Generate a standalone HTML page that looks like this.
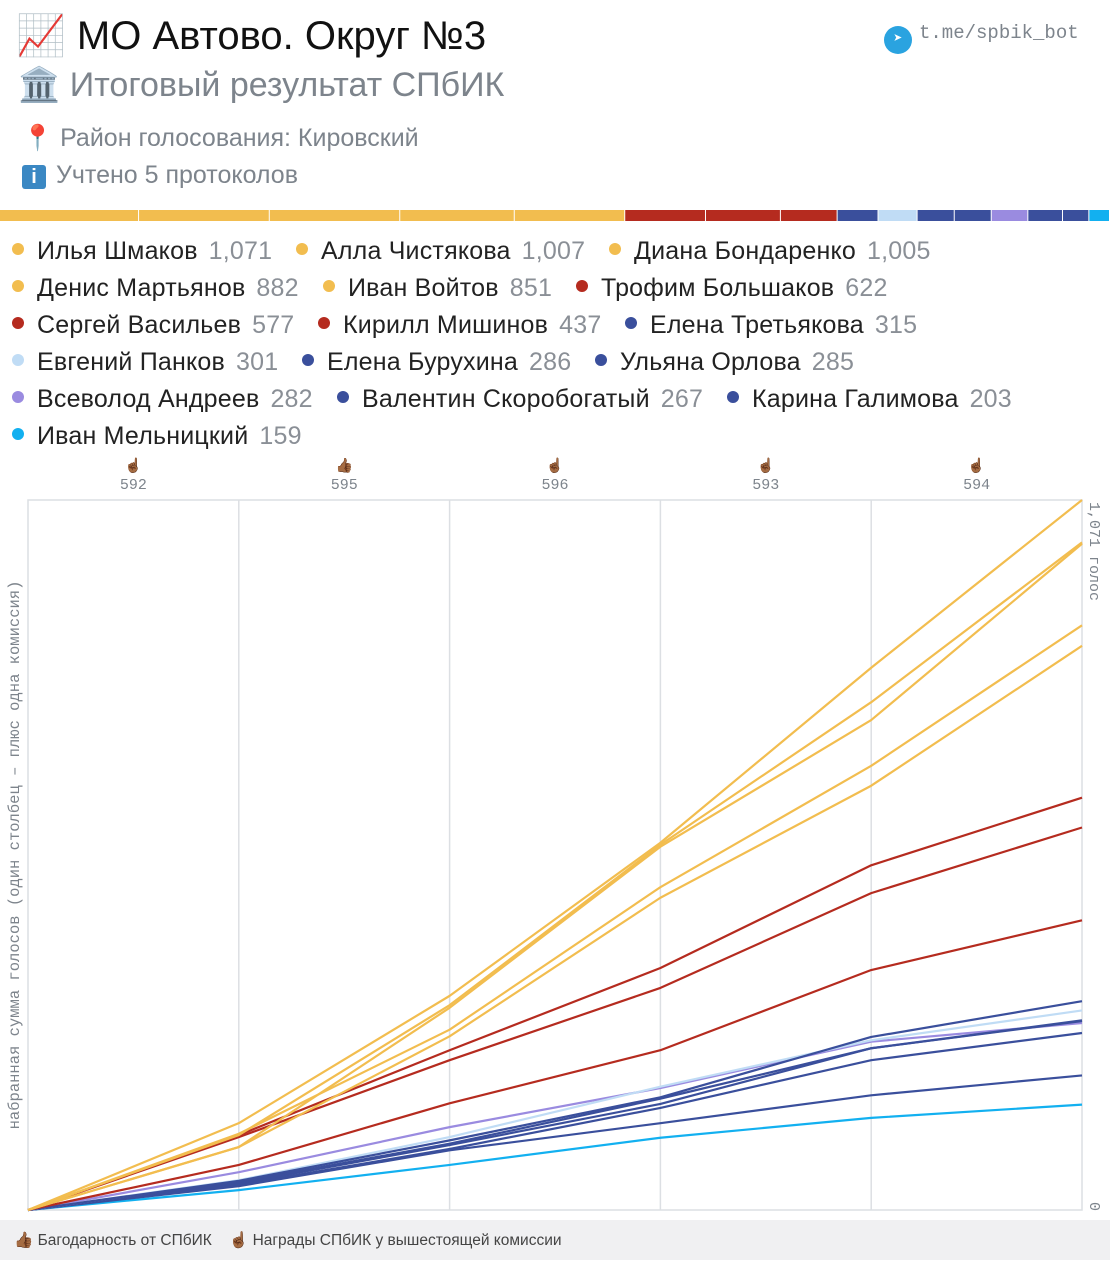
<!DOCTYPE html>
<html><head><meta charset="utf-8">
<style>
body{margin:0;width:1110px;height:1260px;background:#fff;font-family:"Liberation Sans","Noto Sans CJK SC",sans-serif;position:relative;overflow:hidden}
.abs{position:absolute;white-space:nowrap}
.leg{position:absolute;font-size:25px;color:#222;white-space:nowrap;letter-spacing:0.2px}
.leg .dot{display:inline-block;width:12px;height:12px;border-radius:50%;margin-right:13px;vertical-align:4px}
.leg .n{color:#8a8f96;margin-left:11px}
.mono{font-family:"Liberation Mono","DejaVu Sans Mono",monospace}
</style></head><body>
<div class="abs" style="left:16px;top:12px;font-size:40px;color:#111">📈 МО Автово. Округ №3</div>
<div class="abs" style="left:18px;top:65px;font-size:34px;color:#7d848c">🏛️ Итоговый результат СПбИК</div>
<div class="abs" style="left:22px;top:124px;font-size:25px;color:#7d848c">📍 Район голосования: Кировский</div>
<div class="abs" style="left:22px;top:161px;font-size:25px;color:#7d848c"><span style="display:inline-block;width:24px;height:24px;background:#3b88c3;color:#fff;text-align:center;font-weight:bold;border-radius:3px;line-height:24px;margin-right:10px;font-size:20px">i</span>Учтено 5 протоколов</div>
<div class="abs mono" style="left:884px;top:22px;font-size:19px;color:#7d848c"><span style="display:inline-block;width:28px;height:28px;border-radius:50%;background:#2aa3e0;color:#fff;text-align:center;line-height:28px;font-size:15px;vertical-align:-5px;margin-right:7px">➤</span>t.me/spbik_bot</div>
<svg id="bar" class="abs" style="left:0;top:210px" width="1110" height="12"></svg>
<div id="legend"></div>
<svg id="chart" class="abs" style="left:0;top:450px" width="1110" height="770"></svg>
<div class="abs" style="left:0;top:1220px;width:1110px;height:40px;background:#f0f0f2;font-size:15.5px;color:#444;line-height:42px;padding-left:14px;box-sizing:border-box">👍🏾 Багодарность от СПбИК &nbsp;&nbsp;&nbsp;☝🏾 Награды СПбИК у вышестоящей комиссии</div>
<script>
const names=["Илья Шмаков","Алла Чистякова","Диана Бондаренко","Денис Мартьянов","Иван Войтов","Трофим Большаков","Сергей Васильев","Кирилл Мишинов","Елена Третьякова","Евгений Панков","Елена Бурухина","Ульяна Орлова","Всеволод Андреев","Валентин Скоробогатый","Карина Галимова","Иван Мельницкий"];
const totals=[1071,1007,1005,882,851,622,577,437,315,301,286,285,282,267,203,159];
const colors=["#f2bd4f","#f2bd4f","#f2bd4f","#f2bd4f","#f2bd4f","#b52b1f","#b52b1f","#b52b1f","#3a4f9c","#c0dcf5","#3a4f9c","#3a4f9c","#9a8be0","#3a4f9c","#3a4f9c","#12b0f0"];
const commissions=["592","595","596","593","594"];
const icons=["☝🏾","👍🏾","☝🏾","☝🏾","☝🏾"];
const cum0=[131,323,554,818];
const cum1=[113,309,551,766];
const cum2=[95,305,548,739];
const cum3=[115,272,487,670];
const cum4=[95,262,471,640];
const cum5=[113,241,365,520];
const cum6=[110,226,335,478];
const cum7=[68,161,241,362];
const cum8=[44,105,170,261];
const cum9=[45,110,186,256];
const cum10=[42,100,168,244];
const cum11=[40,98,160,244];
const cum12=[57,125,184,254];
const cum13=[38,92,154,226];
const cum14=[36,90,131,173];
const cum15=[30,68,109,139];
const series=[cum0,cum1,cum2,cum3,cum4,cum5,cum6,cum7,cum8,cum9,cum10,cum11,cum12,cum13,cum14,cum15];
const NS="http://www.w3.org/2000/svg";
const bar=document.getElementById('bar');
const sum=totals.reduce((a,b)=>a+b,0);
let acc=0;
totals.forEach((v,i)=>{const r=document.createElementNS(NS,'rect');const x0=acc/sum*1110;acc+=v;const x1=acc/sum*1110;
r.setAttribute('x',x0);r.setAttribute('y',0);r.setAttribute('width',Math.max(0,x1-x0-1));r.setAttribute('height',11);r.setAttribute('fill',colors[i]);


bar.appendChild(r);});
const rows=[[0,1,2],[3,4,5],[6,7,8],[9,10,11],[12,13,14],[15]];
const lg=document.getElementById('legend');
rows.forEach((row,ri)=>{let x=12;row.forEach(i=>{const d=document.createElement('div');d.className='leg';


d.style.left=x+'px';d.style.top=(237+ri*37)+'px';
d.innerHTML='<span class="dot" style="background:'+colors[i]+'"></span>'+names[i]+'<span class="n">'+totals[i].toLocaleString('en-US')+'</span>';
lg.appendChild(d);x+=d.offsetWidth+24;});});
const c=document.getElementById('chart');
const L=28,R=1082,T=50,B=760;
const xs=i=>L+(R-L)*i/5;
const ys=v=>B-(B-T)*v/totals[0];
function el(t,a,name){const e=document.createElementNS(NS,t);for(const k in a)e.setAttribute(k,a[k]);


c.appendChild(e);return e;}
el('rect',{x:L,y:T,width:R-L,height:B-T,fill:'none',stroke:'#dcdfe3','stroke-width':1.5},'plot-frame');
for(let i=1;i<5;i++)el('line',{x1:xs(i),x2:xs(i),y1:T,y2:B,stroke:'#dcdfe3','stroke-width':1.5},'grid-line');
commissions.forEach((cm,i)=>{const cx=(xs(i)+xs(i+1))/2;
const t1=el('text',{x:cx,y:20,'text-anchor':'middle','font-size':14},'commission-icon');t1.textContent=icons[i];
const t2=el('text',{x:cx,y:39,'text-anchor':'middle','font-size':15,fill:'#7d848c','font-family':'Liberation Mono, monospace'},'x-tick-label');t2.textContent=cm;});
for(let s=series.length-1;s>=0;s--){const vals=[0,...series[s],totals[s]];
el('polyline',{points:vals.map((v,i)=>xs(i)+','+ys(v)).join(' '),fill:'none',stroke:colors[s],'stroke-width':2.2,'stroke-linejoin':'round'},'series-line');}
const yt=el('text',{x:0,y:0,transform:'translate(19,405) rotate(-90)','text-anchor':'middle','font-size':15.5,fill:'#7d848c','font-family':'Liberation Mono, monospace'},'y-axis-title');yt.textContent='набранная сумма голосов (один столбец – плюс одна комиссия)';
const mt=el('text',{x:0,y:0,transform:'translate(1090,52) rotate(90)','font-size':15,fill:'#7d848c','font-family':'Liberation Mono, monospace'},'y-max-label');mt.textContent=totals[0].toLocaleString('en-US')+' голос';
const zt=el('text',{x:0,y:0,transform:'translate(1090,752) rotate(90)','font-size':15,fill:'#7d848c','font-family':'Liberation Mono, monospace'},'y-zero-label');zt.textContent='0';
</script>
</body></html>
